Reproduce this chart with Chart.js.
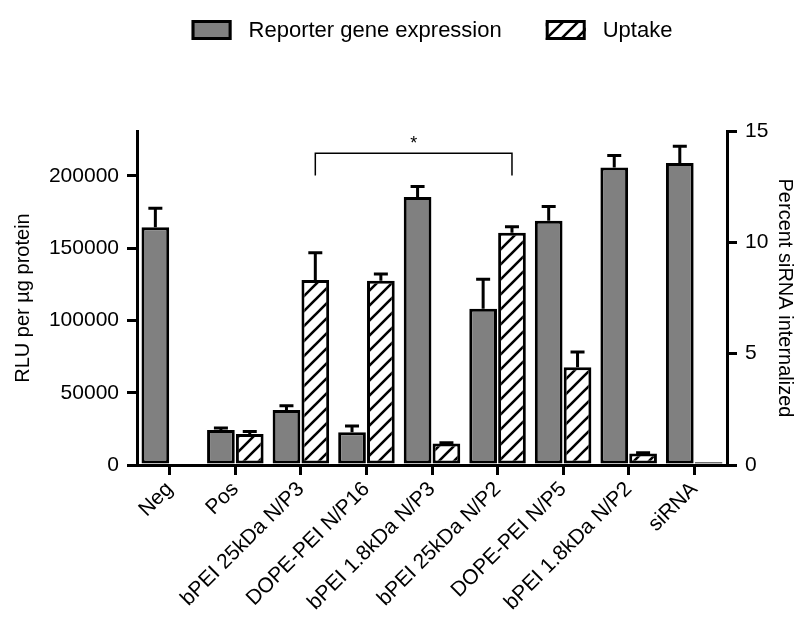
<!DOCTYPE html>
<html><head><meta charset="utf-8">
<script src="https://cdn.jsdelivr.net/npm/chart.js@4.4.1/dist/chart.umd.min.js"></script>
<style>html,body{margin:0;padding:0;background:#fff}</style>
</head><body>
<canvas id="c" width="803" height="619" style="display:block"></canvas>
<script>
// ---- data ----
const categories = ['Neg','Pos','bPEI 25kDa N/P3','DOPE-PEI N/P16','bPEI 1.8kDa N/P3','bPEI 25kDa N/P2','DOPE-PEI N/P5','bPEI 1.8kDa N/P2','siRNA'];
const seriesNames = ['Reporter gene expression','Uptake'];
const reporterExpression = [164500, 24200, 38000, 22600, 185300, 108000, 169000, 205700, 208800];
const reporterError      = [13100, 1400, 3000, 4400, 7300, 20500, 9800, 8300, 11700];
const uptakePercent      = [0, 1.39, 8.31, 8.28, 0.97, 10.43, 4.39, 0.52, 0.12];
const uptakeError        = [0, 0.12, 1.22, 0.30, 0.03, 0.27, 0.68, 0.03, 0];
const leftTicks  = [0, 50000, 100000, 150000, 200000];
const rightTicks = [0, 5, 10, 15];
const leftMax = 231000;
const rightMax = 15;
const sigFrom = 2, sigTo = 5, sigLabel = '*', sigTop = 14, sigLeg = 13;

const FONT = 'Liberation Sans, Arial, Helvetica, sans-serif';
const canvas = document.getElementById('c');
const ctx0 = canvas.getContext('2d');

function makeHatch(){
  const s = 15;
  const c = document.createElement('canvas'); c.width = s; c.height = s;
  const x = c.getContext('2d');
  x.fillStyle = '#fff'; x.fillRect(0,0,s,s);
  x.strokeStyle = '#000'; x.lineWidth = 2.6; x.lineCap = 'square';
  x.beginPath();
  x.moveTo(-2, s+2); x.lineTo(s+2, -2);
  x.moveTo(-2, 2); x.lineTo(2, -2);
  x.moveTo(s-2, s+2); x.lineTo(s+2, s-2);
  x.stroke();
  return ctx0.createPattern(c, 'repeat');
}
const hatch = makeHatch();
const GRAY = '#808080';

const errorBars = {
  id: 'errorBars',
  afterDatasetsDraw(chart){
    const ctx = chart.ctx;
    const sets = [[0, reporterExpression, reporterError, 'yL'], [1, uptakePercent, uptakeError, 'yR']];
    ctx.save();
    ctx.strokeStyle = '#000'; ctx.lineWidth = 3; ctx.lineCap = 'butt';
    sets.forEach(([di, vals, errs, ax]) => {
      const meta = chart.getDatasetMeta(di);
      const sc = chart.scales[ax];
      meta.data.forEach((bar, i) => {
        if (!errs[i]) return;
        const x = bar.x;
        const y0 = sc.getPixelForValue(vals[i]);
        const y1 = sc.getPixelForValue(vals[i] + errs[i]);
        ctx.beginPath();
        ctx.moveTo(x, y0); ctx.lineTo(x, y1);
        ctx.moveTo(x - 7, y1); ctx.lineTo(x + 7, y1);
        ctx.stroke();
      });
    });
    // significance bracket
    const meta = chart.getDatasetMeta(1);
    const sc = chart.scales.yR;
    const xa = meta.data[sigFrom].x, xb = meta.data[sigTo].x;
    const yt = sc.getPixelForValue(sigTop), yl = sc.getPixelForValue(sigLeg);
    ctx.lineWidth = 1.5;
    ctx.beginPath();
    ctx.moveTo(xa, yl); ctx.lineTo(xa, yt); ctx.lineTo(xb, yt); ctx.lineTo(xb, yl);
    ctx.stroke();
    ctx.fillStyle = '#000';
    ctx.font = '18px ' + FONT;
    ctx.textAlign = 'center'; ctx.textBaseline = 'middle';
    ctx.fillText(sigLabel, (xa + xb) / 2, yt - 9);
    ctx.restore();
  }
};

const customLegend = {
  id: 'customLegend',
  afterDraw(chart){
    const ctx = chart.ctx;
    ctx.save();
    ctx.font = '22px ' + FONT;
    const boxW = 40, boxH = 20, gapText = 17, gapItem = 44;
    const w0 = ctx.measureText(seriesNames[0]).width;
    const w1 = ctx.measureText(seriesNames[1]).width;
    const total = boxW + gapText + w0 + gapItem + boxW + gapText + w1;
    const ca = chart.chartArea;
    let x = (ca.left + ca.right) / 2 - total / 2;
    const yc = 30;
    const fills = [GRAY, hatch];
    [w0, w1].forEach((w, i) => {
      ctx.fillStyle = fills[i];
      ctx.fillRect(x, yc - boxH/2, boxW, boxH);
      ctx.strokeStyle = '#000'; ctx.lineWidth = 3;
      ctx.strokeRect(x + 1.5, yc - boxH/2 + 1.5, boxW - 3, boxH - 3);
      ctx.fillStyle = '#000';
      ctx.textAlign = 'left'; ctx.textBaseline = 'middle';
      ctx.fillText(seriesNames[i], x + boxW + gapText, yc + 1);
      x += boxW + gapText + w + gapItem;
    });
    ctx.restore();
  }
};

const axisGrid = {display: true, drawOnChartArea: false, drawTicks: true, tickLength: 10, color: '#000', lineWidth: 3};
const axisBorder = {display: true, color: '#000', width: 3};

new Chart(canvas, {
  type: 'bar',
  data: {
    labels: categories,
    datasets: [
      {label: seriesNames[0], data: reporterExpression, yAxisID: 'yL', backgroundColor: GRAY, borderColor: '#000', borderWidth: 3, borderSkipped: false},
      {label: seriesNames[1], data: uptakePercent, yAxisID: 'yR', backgroundColor: hatch, borderColor: '#000', borderWidth: 3, borderSkipped: false}
    ]
  },
  options: {
    responsive: false,
    animation: false,
    devicePixelRatio: 1,
    layout: {padding: {top: 131, left: 0, right: 0, bottom: 0}},
    datasets: {bar: {categoryPercentage: 0.88, barPercentage: 0.96}},
    plugins: {legend: {display: false}, tooltip: {enabled: false}},
    scales: {
      x: {
        offset: true,
        grid: Object.assign({}, axisGrid, {offset: false}),
        border: axisBorder,
        ticks: {color: '#000', font: {size: 21, family: FONT}, maxRotation: 45, minRotation: 45, autoSkip: false, padding: 2},
        afterFit(s){ s.height = 154; }
      },
      yL: {
        type: 'linear', position: 'left', min: 0, max: leftMax,
        grid: axisGrid, border: axisBorder,
        afterBuildTicks(s){ s.ticks = leftTicks.map(v => ({value: v})); },
        ticks: {color: '#000', font: {size: 21, family: FONT}, padding: 8, callback: v => String(v)},
        title: {display: true, text: 'RLU per µg protein', color: '#000', font: {size: 20, family: FONT}, padding: {top: 11, bottom: 0}},
        afterFit(s){ s.width = 137; }
      },
      yR: {
        type: 'linear', position: 'right', min: 0, max: rightMax,
        grid: axisGrid, border: axisBorder,
        afterBuildTicks(s){ s.ticks = rightTicks.map(v => ({value: v})); },
        ticks: {color: '#000', font: {size: 21, family: FONT}, padding: 8, callback: v => String(v)},
        title: {display: true, text: 'Percent siRNA internalized', color: '#000', font: {size: 20, family: FONT}, padding: {top: 6, bottom: 0}},
        afterFit(s){ s.width = 76; }
      }
    }
  },
  plugins: [errorBars, customLegend]
});
</script>
</body></html>
